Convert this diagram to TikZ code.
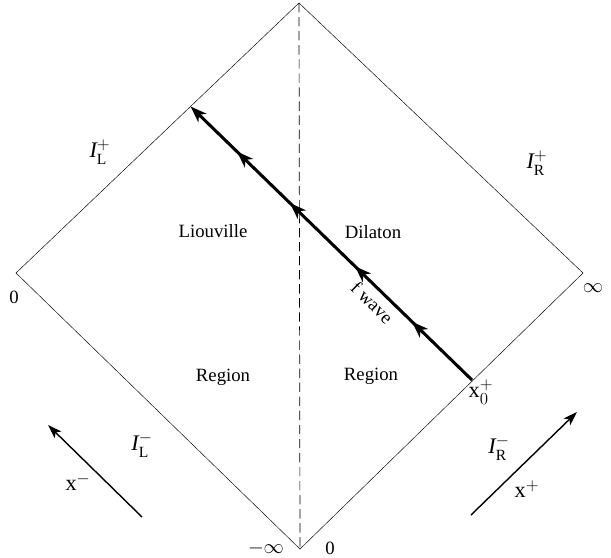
\documentclass[tikz,border=0pt]{standalone}
\usepackage{amsmath}
\usepackage{fontspec}
\setmainfont{Liberation Serif}
\usetikzlibrary{arrows.meta,decorations.markings}

\begin{document}
\begin{tikzpicture}[x=0.03cm,y=-0.03cm,line width=.4pt,font=\fontsize{16}{19}\selectfont,
  lbl/.style={inner sep=1pt},
  sym/.style={inner sep=1pt,font=\fontsize{19}{22}\selectfont},
  midtip/.tip={Stealth[length=14pt,width=10pt,inset=4pt]},
  wave/.style={line width=2.6pt,-midtip,
    postaction={decorate},
    decoration={markings,
      mark=at position 0.213 with {\arrow{midtip}},
      mark=at position 0.416 with {\arrow{midtip}},
      mark=at position 0.647 with {\arrow{midtip}},
      mark=at position 0.835 with {\arrow{midtip}}}},
  axis/.style={line width=1.2pt,-{Stealth[length=12pt,width=8pt,inset=3pt]}}]
\useasboundingbox (0,0) rectangle (611,558);
% corners of the diagram
\coordinate (top) at (299,3);
\coordinate (left) at (16,273);
\coordinate (right) at (583,273);
\coordinate (bottom) at (300,549);
\coordinate (x0) at (472,380);
\coordinate (wavetip) at (190.6,106.5);
\draw (top)--(right)--(bottom)--(left)--cycle;
\draw[line width=.6pt,dash pattern=on 8pt off 4pt] (top)--(bottom);
\draw[wave] (x0) -- node[pos=0.32,sloped,below=4pt,lbl] (fwave) {f wave} (wavetip);
% light-cone directions
\coordinate (xmtail) at (142,517);
\coordinate (xmtip) at (48,425);
\coordinate (xptail) at (471,515);
\coordinate (xptip) at (577,412);
\draw[axis] (xmtail)--(xmtip);
\draw[axis] (xptail)--(xptip);
% labels
\node[lbl] (liou) at (213,231) {Liouville};
\node[lbl] (dil) at (373,232) {Dilaton};
\node[lbl] (regl) at (223,377) {Region};
\node[lbl] (regr) at (371,376) {Region};
\node[sym] (ilp) at (100,152) {$\textit{I}^{+}_{\text{L}}$};
\node[sym] (irp) at (537,163) {$\textit{I}^{+}_{\text{R}}$};
\node[sym] (ilm) at (142,445) {$\textit{I}^{-}_{\text{L}}$};
\node[sym] (irm) at (499,448) {$\textit{I}^{-}_{\text{R}}$};
\node[sym] (xm) at (78,482) {$\text{x}^{-}$};
\node[sym] (xp) at (527,489) {$\text{x}^{+}$};
\node[sym] (xz) at (481,392) {$\text{x}^{+}_{0}$};
\node[lbl] (zl) at (14,297) {0};
\node[lbl] (infr) at (593,288) {$\infty$};
\node[lbl] (infb) at (266,548) {$-\infty$};
\node[lbl] (zb) at (330,548) {0};
\end{tikzpicture}
\end{document}
